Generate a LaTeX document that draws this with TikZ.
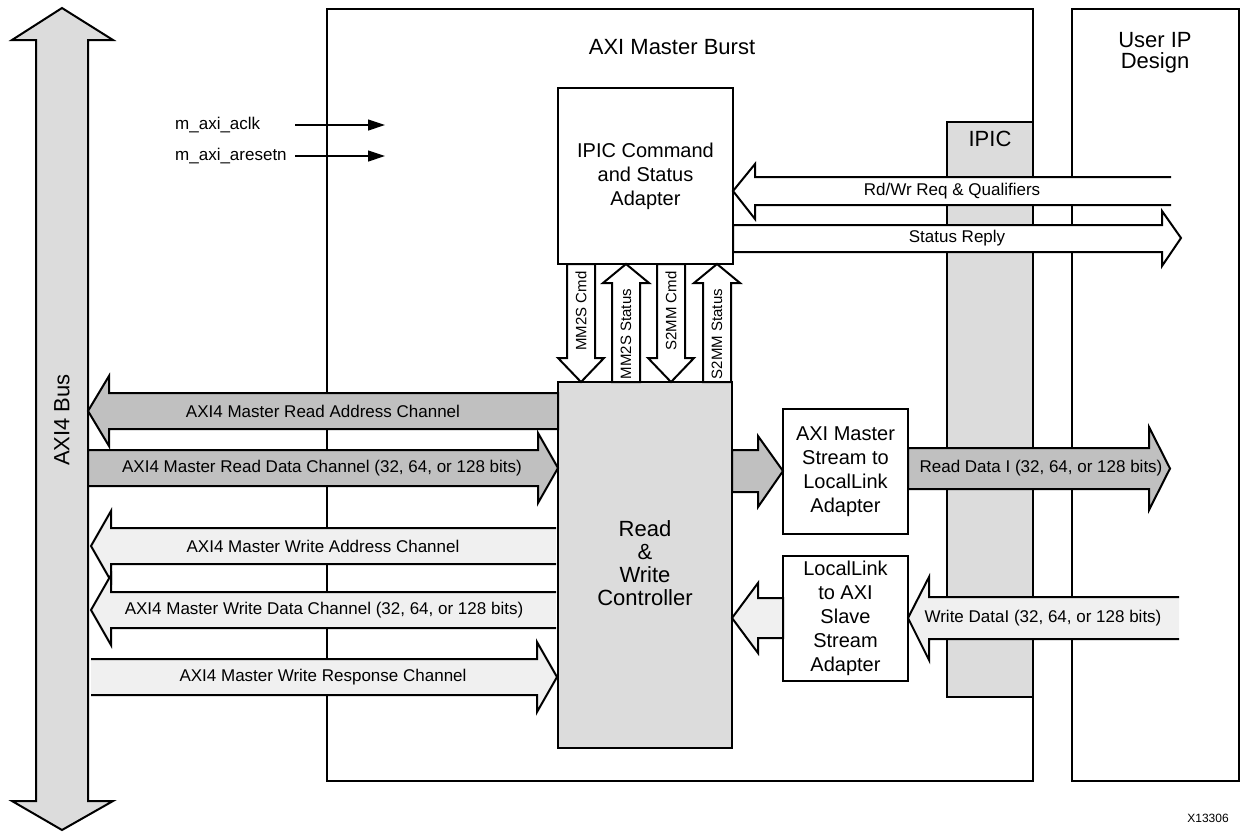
\documentclass[tikz,border=0pt]{standalone}
\usepackage{fontspec}
\setmainfont{Liberation Sans}
\usetikzlibrary{arrows.meta}
\definecolor{busgray}{HTML}{DCDCDC}
\definecolor{darkch}{HTML}{C0C0C0}
\definecolor{lightch}{HTML}{F0F0F0}
\tikzset{
  frame/.style={draw, line width=2pt, inner sep=0pt},
  blockbox/.style={draw, line width=2pt, fill=white, inner sep=0pt, align=center,
    font=\fontsize{20}{24}\selectfont},
  chan/.style={draw, line width=2pt, line join=miter},
  chanline/.style={line width=2pt, line join=miter},
  lbl/.style={font=\fontsize{17}{20}\selectfont, inner sep=0pt},
  biglbl/.style={font=\fontsize{22}{22}\selectfont, inner sep=0pt, align=center},
  vlbl/.style={font=\fontsize{15}{18}\selectfont, inner sep=0pt, rotate=90},
  sig/.style={line width=1.2pt, -{Triangle[length=17pt,width=11pt]}}
}
\begin{document}
\begin{tikzpicture}[x=1pt,y=-1pt]
\useasboundingbox (0,0) rectangle (1244,831);

% AXI4 bus: double block arrow
\draw[chan, fill=busgray] (62,8) -- (113,40) -- (88,40) -- (88,801) -- (113,801)
  -- (62,830) -- (12,801) -- (36,801) -- (36,40) -- (12,40) -- cycle;
\node[biglbl, rotate=90] (busname) at (62,420) {AXI4 Bus};

% outer frames
\node[frame, minimum width=706pt, minimum height=772pt] (burst) at (680,395) {};
\node[biglbl] (bursttitle) at (672,47) {AXI Master Burst};
\node[frame, minimum width=167pt, minimum height=772pt] (user) at (1155.5,395) {};
\node[biglbl, font=\fontsize{22}{21}\selectfont] (usertitle) at (1155,53) {User IP\\Design};

% IPIC interface band
\node[frame, fill=busgray, minimum width=86pt, minimum height=575pt] (ipic) at (990,409.5) {};
\node[biglbl] (ipictitle) at (990,139) {IPIC};

% clock and reset inputs
\node[lbl, anchor=west] (aclk) at (175,125) {m\_axi\_aclk};
\node[lbl, anchor=west] (aresetn) at (175,156) {m\_axi\_aresetn};
\coordinate (aclkS) at (295,125);
\coordinate (aclkE) at (385,125);
\coordinate (arstS) at (295,156);
\coordinate (arstE) at (385,156);
\draw[sig] (aclkS) -- (aclkE);
\draw[sig] (arstS) -- (arstE);

% functional blocks
\node[blockbox, minimum width=175pt, minimum height=176pt] (cmd) at (645.5,176)
  {IPIC Command\\and Status\\Adapter};
\node[blockbox, fill=busgray, minimum width=174pt, minimum height=366pt] (ctrl) at (645,565) {};
\node[inner sep=0pt, align=center, font=\fontsize{22}{23}\selectfont] (ctrltext)
  at (645,563) {Read\\\&\\Write\\Controller};
\node[blockbox, minimum width=125pt, minimum height=125pt] (mstream) at (845.5,471.5)
  {AXI Master\\Stream to\\LocalLink\\Adapter};
\node[blockbox, minimum width=125pt, minimum height=125pt] (sstream) at (845.5,618.5)
  {LocalLink\\to AXI\\Slave\\Stream\\Adapter};

% command / status arrows between the adapter and the controller
\draw[chan, fill=white] (567,264) -- (595,264) -- (595,358) -- (604,358) -- (581,382)
  -- (558,358) -- (567,358) -- cycle;
\draw[chan, fill=white] (612,382) -- (640,382) -- (640,283) -- (649,283) -- (626,264)
  -- (603,283) -- (612,283) -- cycle;
\draw[chan, fill=white] (657,264) -- (685,264) -- (685,358) -- (694,358) -- (671,382)
  -- (648,358) -- (657,358) -- cycle;
\draw[chan, fill=white] (703,382) -- (731,382) -- (731,283) -- (740,283) -- (717,264)
  -- (694,283) -- (703,283) -- cycle;
\node[vlbl] (mm2scmd) at (581,311) {MM2S Cmd};
\node[vlbl] (mm2sst) at (626,334) {MM2S Status};
\node[vlbl] (s2mmcmd) at (671,311) {S2MM Cmd};
\node[vlbl] (s2mmst) at (717,334) {S2MM Status};

% IPIC request and status reply
\fill[white] (733,191) -- (755,164) -- (755,177) -- (1171,177) -- (1171,205)
  -- (755,205) -- (755,219) -- cycle;
\draw[chanline] (1171,177) -- (755,177) -- (755,164) -- (733,191) -- (755,219)
  -- (755,205) -- (1171,205);
\node[lbl] (rwreq) at (952,191) {Rd/Wr Req \& Qualifiers};
\draw[chan, fill=white] (733,225) -- (1162,225) -- (1162,211) -- (1181,238)
  -- (1162,266) -- (1162,252) -- (733,252) -- cycle;
\node[lbl] (streply) at (957,238) {Status Reply};

% AXI4 read channels
\draw[chan, fill=darkch] (88,411) -- (109,376) -- (109,393) -- (558,393) -- (558,429)
  -- (109,429) -- (109,446) -- cycle;
\node[lbl] (rdaddr) at (323,411) {AXI4 Master Read Address Channel};
\draw[chan, fill=darkch] (88,450) -- (538,450) -- (538,433) -- (558,468) -- (538,503)
  -- (538,486) -- (88,486) -- cycle;
\node[lbl] (rddata) at (322,468) {AXI4 Master Read Data Channel (32, 64, or 128 bits)};

% AXI4 write channels
\fill[lightch] (91,546) -- (111,511) -- (111,528) -- (556,528) -- (556,564)
  -- (111,564) -- (111,581) -- cycle;
\draw[chanline] (556,528) -- (111,528) -- (111,511) -- (91,546) -- (111,581)
  -- (111,564) -- (556,564);
\node[lbl] (wraddr) at (323,546) {AXI4 Master Write Address Channel};
\fill[lightch] (91,610) -- (111,575) -- (111,592) -- (556,592) -- (556,628)
  -- (111,628) -- (111,645) -- cycle;
\draw[chanline] (556,592) -- (111,592) -- (111,575) -- (91,610) -- (111,645)
  -- (111,628) -- (556,628);
\node[lbl] (wrdata) at (324,610) {AXI4 Master Write Data Channel (32, 64, or 128 bits)};
\fill[lightch] (91,659) -- (537,659) -- (537,642) -- (557,677) -- (537,712)
  -- (537,695) -- (91,695) -- cycle;
\draw[chanline] (91,659) -- (537,659) -- (537,642) -- (557,677) -- (537,712)
  -- (537,695) -- (91,695);
\node[lbl] (wrresp) at (323,677) {AXI4 Master Write Response Channel};

% stream data path to the user side
\draw[chan, fill=darkch] (732,450) -- (758,450) -- (758,436) -- (783,471) -- (758,507)
  -- (758,492) -- (732,492) -- cycle;
\draw[chan, fill=darkch] (908,448) -- (1149,448) -- (1149,427) -- (1170,468.5)
  -- (1149,510) -- (1149,489) -- (908,489) -- cycle;
\node[lbl] (rdl) at (1041,468) {Read Data I (32, 64, or 128 bits)};

% stream data path from the user side
\draw[chan, fill=lightch] (732,618) -- (758,583) -- (758,598) -- (783,598) -- (783,638)
  -- (758,638) -- (758,653) -- cycle;
\fill[lightch] (908,618) -- (929,577) -- (929,597) -- (1179,597) -- (1179,639)
  -- (929,639) -- (929,660) -- cycle;
\draw[chanline] (1179,597) -- (929,597) -- (929,577) -- (908,618) -- (929,660)
  -- (929,639) -- (1179,639);
\node[lbl] (wrl) at (1043,618) {Write DataI (32, 64, or 128 bits)};

% figure number
\node[font=\fontsize{12}{14}\selectfont, inner sep=0pt] (fignum) at (1208,818) {X13306};
\end{tikzpicture}
\end{document}
